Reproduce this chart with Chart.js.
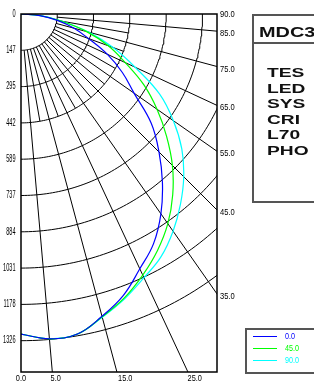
<!DOCTYPE html>
<html><head><meta charset="utf-8">
<script src="https://cdn.jsdelivr.net/npm/chart.js@4.4.1/dist/chart.umd.min.js"></script>
<style>
html,body{margin:0;padding:0;background:#fff;}
#wrap{position:relative;width:314px;height:383px;overflow:hidden;background:#fff;}
#c{position:absolute;left:0;top:0;}
.abs{position:absolute;white-space:nowrap;}
.box{position:absolute;border:2px solid #555;box-sizing:content-box;}
.bt{font-family:"Liberation Sans",Arial,sans-serif;font-weight:bold;color:#111;transform-origin:0 0;}
.lg{font-family:"Liberation Sans",Arial,sans-serif;font-size:9px;line-height:9px;transform:scaleX(0.8);transform-origin:0 0;}
</style></head>
<body>
<div id="wrap">
<canvas id="c" width="314" height="383"></canvas>
<div class="box" style="left:252px;top:14px;width:100px;height:185px;"></div>
<div class="abs" style="left:252px;top:42px;width:100px;height:2px;background:#555;"></div>
<div id="hdr" class="abs bt" style="left:259px;top:25px;font-size:14px;line-height:14px;transform:scaleX(1.42);"></div>
<div id="lines"></div>
<div class="box" style="left:245px;top:328px;width:100px;height:42px;"></div>
<div id="legend"></div>
</div>
<script>
// ---- data ----
const angles = [0,5,10,15,20,25,30,35,40,45,50,55,60,65,70,75,80,85,90];
const c0  = [1299,1323,1319,1270,1215,1141,1076,990,893,792,690,560,475,386,292,223,150,77,0];
const c45 = [1299,1323,1319,1272,1226,1169,1108,1039,958,869,771,674,576,467,377,276,166,81,0];
const c90 = [1299,1323,1319,1274,1230,1181,1137,1076,1007,934,852,755,649,511,398,284,170,85,0];
const seriesNames = ['0.0','45.0','90.0'];
const seriesColors = ['#0000ff','#00ff00','#00ffff'];
const yTickLabels = ['0','147','295','442','589','737','884','1031','1178','1326'];
const yTickStep = 147.33;
const xTickValues = [0,5,15,25];
const xTickLabels = ['0.0','5.0','15.0','25.0'];
const angleTicks = [90,85,75,65,55,45,35];
const angleTickLabels = ['90.0','85.0','75.0','65.0','55.0','45.0','35.0'];
const longRays = [5,15,25,35,45,55,65,75,85];
const shortRays = [10,20,30,40,50,60,70,80];
const xMax = 28.2, yMax = 1453;
const headerText = 'MDC3';
const infoLines = ['TES','LED','SYS','CRI','L70','PHO'];

// ---- helpers ----
const PLOT_W = 196, PLOT_H = 358;            // chart area size (set through afterFit below)
const K = (xMax/PLOT_W)/(yMax/PLOT_H);        // x-units per candela so the polar grid is round
const rad = d => d*Math.PI/180;
function polar(I, deg){ return {x: I*Math.sin(rad(deg))*K, y: I*Math.cos(rad(deg))}; }

const datasets = [];
[c0,c45,c90].forEach((s,i)=>{
  datasets.push({label: seriesNames[i], data: s.map((v,j)=>polar(v, angles[j])),
    borderColor: seriesColors[i], borderWidth: 1.2, tension: 0.4, order: i});
});
const gridStyle = {borderColor:'#000', borderWidth:1, tension:0, order:10};
yTickLabels.forEach((l,k)=>{
  if(k===0) return;
  const R = k*yTickStep, pts=[];
  for(let a=0;a<=90;a+=1) pts.push(polar(R,a));
  datasets.push(Object.assign({label:'c'+k, data:pts}, gridStyle));
});
longRays.forEach(a=>datasets.push(Object.assign({label:'r'+a, data:[polar(yTickStep,a), polar(yTickStep*20,a)]}, gridStyle)));
shortRays.forEach(a=>datasets.push(Object.assign({label:'s'+a, data:[polar(yTickStep,a), polar(yTickStep*3,a)]}, gridStyle)));

const FONT = '"Liberation Sans",Arial,sans-serif';

// frame + narrow tick labels drawn at the scales' pixel positions
const framePlugin = {id:'frame', afterDraw(chart){
  const a = chart.chartArea, ctx = chart.ctx;
  ctx.save(); ctx.strokeStyle='#000'; ctx.lineWidth=1.5;
  ctx.strokeRect(a.left, a.top, a.right-a.left, a.bottom-a.top); ctx.restore();
  const draw = (txt, x, y, align, base, size, sx) => {
    ctx.save(); ctx.translate(x, y); ctx.scale(sx, 1);
    ctx.font = size+'px '+FONT; ctx.fillStyle='#000';
    ctx.textAlign = align; ctx.textBaseline = base;
    ctx.fillText(txt, 0, 0); ctx.restore();
  };
  const sy = chart.scales.y, sr = chart.scales.yR, sxs = chart.scales.x;
  sy.ticks.forEach((t,i)=>draw(yTickLabels[i], a.left-5.5, sy.getPixelForValue(t.value), 'right','middle',10,0.56));
  sr.ticks.forEach((t,i)=>{
    const p = sr.getPixelForValue(t.value);
    draw(angleTickLabels[i], a.right+3, p + (t.value>0 ? 2.5 : 0.5), 'left','middle',9,0.84);
  });
  sxs.ticks.forEach((t,i)=>draw(xTickLabels[i], sxs.getPixelForValue(t.value), a.bottom+2, 'center','top',9,0.82));
}};

new Chart(document.getElementById('c'), {
  type:'line',
  data:{datasets},
  plugins:[framePlugin],
  options:{
    responsive:false, animation:false, devicePixelRatio:1,
    layout:{padding:{top:14,left:0,right:0,bottom:0}},
    elements:{point:{radius:0,hoverRadius:0}},
    plugins:{legend:{display:false}, tooltip:{enabled:false}},
    events:[],
    scales:{
      x:{type:'linear', min:0, max:xMax,
        afterBuildTicks:s=>{s.ticks = xTickValues.map(v=>({value:v}));},
        afterFit:s=>{s.height=383-14-PLOT_H;},
        ticks:{display:false},
        grid:{display:false, drawTicks:false}, border:{display:false}},
      y:{type:'linear', reverse:true, min:0, max:yMax,
        afterBuildTicks:s=>{s.ticks = yTickLabels.map((l,i)=>({value:i*yTickStep}));},
        afterFit:s=>{s.width=21;},
        ticks:{display:false},
        grid:{display:false, drawTicks:false}, border:{display:false}},
      yR:{type:'linear', position:'right', reverse:true, min:0, max:yMax,
        afterBuildTicks:s=>{s.ticks = angleTicks.map(a=>({value: a===90?0:(xMax/K)/Math.tan(rad(a))}));},
        afterFit:s=>{s.width=314-21-PLOT_W;},
        ticks:{display:false},
        grid:{display:false, drawTicks:false}, border:{display:false}}
    }
  }
});

// ---- info box & legend (text) ----
document.getElementById('hdr').textContent = headerText;
const linesDiv = document.getElementById('lines');
infoLines.forEach((t,i)=>{
  const d = document.createElement('div');
  d.className='abs bt';
  d.style.cssText = `left:267px;top:${67+i*15.6}px;font-size:12px;line-height:12px;transform:scaleX(1.6);`;
  d.textContent = t; linesDiv.appendChild(d);
});
const lg = document.getElementById('legend');
seriesNames.forEach((n,i)=>{
  const y = 336 + i*12;
  const ln = document.createElement('div');
  ln.className='abs'; ln.style.cssText=`left:253px;top:${y}px;width:24px;height:1px;background:${seriesColors[i]};`;
  lg.appendChild(ln);
  const tx = document.createElement('div');
  tx.className='abs lg'; tx.style.cssText=`left:285px;top:${y-4}px;color:${seriesColors[i]};`;
  tx.textContent = n; lg.appendChild(tx);
});
</script>
</body></html>
